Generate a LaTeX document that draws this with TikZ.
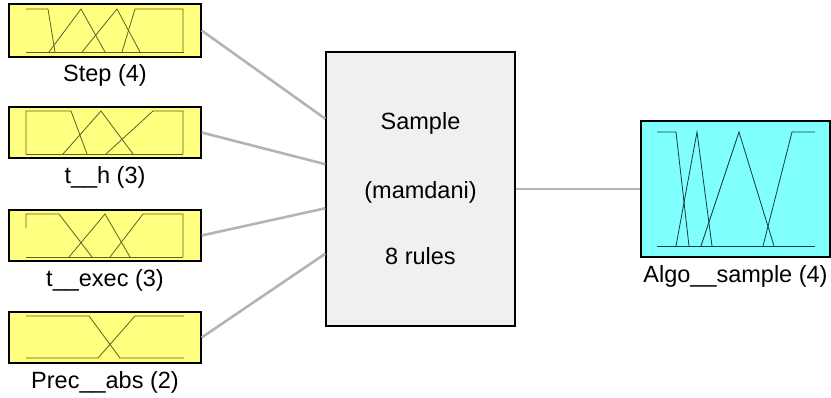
\documentclass[tikz,border=0pt]{standalone}
\usepackage{fontspec}
\setmainfont{Liberation Sans}
\usetikzlibrary{calc}
\definecolor{inyellow}{HTML}{FFFF80}
\definecolor{incyan}{HTML}{80FFFF}
\definecolor{sysgray}{HTML}{F0F0F0}
\definecolor{conngray}{HTML}{B4B4B4}
\definecolor{mfolive}{RGB}{96,96,40}
\definecolor{mfteal}{RGB}{20,60,60}
\begin{document}
\begin{tikzpicture}[x=1pt,y=-1pt,
  txt/.style={font=\fontsize{23.5}{28}\selectfont, inner sep=0pt},
  inbox/.style={draw=black, line width=1.4pt, fill=inyellow, inner sep=0pt, minimum width=192pt},
  outbox/.style={draw=black, line width=1.4pt, fill=incyan, inner sep=0pt, minimum width=189pt, minimum height=136pt},
  sysbox/.style={draw=black, line width=1.4pt, fill=sysgray, inner sep=0pt, minimum width=189pt, minimum height=274pt},
  conn/.style={draw=conngray, line width=2.6pt},
  mfin/.style={draw=mfolive, line width=0.8pt},
  mfout/.style={draw=mfteal, line width=0.8pt}]
\useasboundingbox (0,0) rectangle (831,398);
% input boxes
\node[inbox, minimum height=53pt] (step) at (105,30.5) {};
\node[inbox, minimum height=51pt] (th) at (105,132.5) {};
\node[inbox, minimum height=51pt] (exec) at (105,235.5) {};
\node[inbox, minimum height=51pt] (prec) at (105,337.5) {};
% system box
\node[sysbox] (sys) at (420.5,189) {};
% output box
\node[outbox] (algo) at (735.5,189) {};
% labels
\node[txt, anchor=base] (stepL) at ([yshift=-24pt]step.south) {Step (4)};
\node[txt, anchor=base] (thL) at ([yshift=-25pt]th.south) {t\_\_h (3)};
\node[txt, anchor=base] (execL) at ([yshift=-25pt]exec.south) {t\_\_exec (3)};
\node[txt, anchor=base] (precL) at ([yshift=-25pt]prec.south) {Prec\_\_abs (2)};
\node[txt, anchor=base] (algoL) at ([yshift=-25pt]algo.south) {Algo\_\_sample (4)};
\node[txt, anchor=base] (sysA) at (420.5,129.5) {Sample};
\node[txt, anchor=base] (sysB) at (420.5,199) {(mamdani)};
\node[txt, anchor=base] (sysC) at (420.5,265) {8 rules};
% connectors
\draw[conn] (step.east) -- ($(sys.north west)!0.245!(sys.south west)$);
\draw[conn] (th.east) -- ($(sys.north west)!0.41!(sys.south west)$);
\draw[conn] (exec.east) -- ($(sys.north west)!0.57!(sys.south west)$);
\draw[conn] (prec.east) -- ($(sys.north west)!0.735!(sys.south west)$);
\draw[conn] (sys.east) -- (algo.west);
% Step MFs
\draw[mfin] (26,52) -- (184,52);
\draw[mfin] (26,9) -- (48,9) -- (55,52);
\draw[mfin] (49,52) -- (81,9) -- (105,52);
\draw[mfin] (82,52) -- (117,9) -- (140,52);
\draw[mfin] (122,52) -- (135,9) -- (183,9) -- (183,52);
% t__h MFs
\draw[mfin] (26,154) -- (183,154);
\draw[mfin] (26,154) -- (26,111) -- (71,111) -- (87,154);
\draw[mfin] (63,154) -- (101,111) -- (133,154);
\draw[mfin] (106,154) -- (153,111) -- (183,111) -- (183,154);
% t__exec MFs
\draw[mfin] (26,257) -- (183,257);
\draw[mfin] (26,228) -- (26,214) -- (59,214) -- (92,257);
\draw[mfin] (69,257) -- (105,214) -- (130,257);
\draw[mfin] (110,257) -- (143,214) -- (183,214) -- (183,257);
% Prec__abs MFs
\draw[mfin] (26,316) -- (89,316) -- (120,358) -- (184,358);
\draw[mfin] (26,358) -- (98,358) -- (135,316) -- (184,316);
% Algo__sample MFs
\draw[mfout] (657,246) -- (815,246);
\draw[mfout] (657,132) -- (676,132) -- (689,246);
\draw[mfout] (676,246) -- (697,132) -- (712,246);
\draw[mfout] (701,246) -- (739,132) -- (774,246);
\draw[mfout] (763,246) -- (792,132) -- (815,132);
\end{tikzpicture}
\end{document}
